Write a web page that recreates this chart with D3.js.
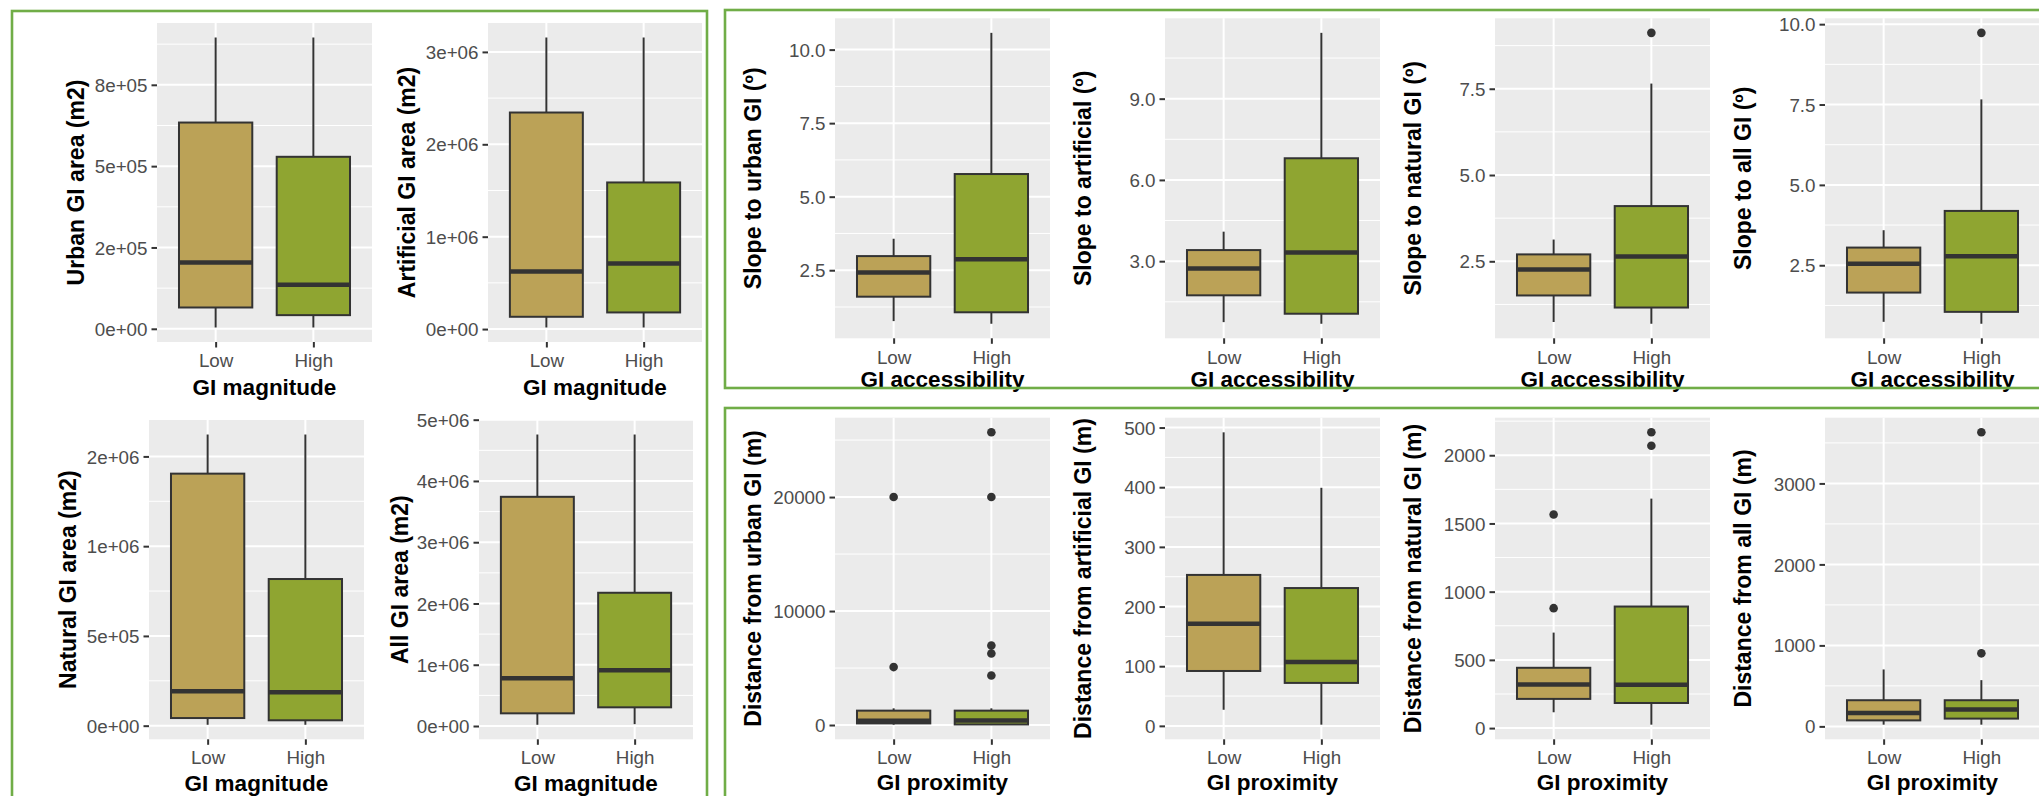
<!DOCTYPE html>
<html>
<head>
<meta charset="utf-8">
<script src="https://cdn.jsdelivr.net/npm/d3@7"></script>
<style>
  body { margin: 0; background: #ffffff; }
  svg { display: block; font-family: "Liberation Sans", Arial, Helvetica, sans-serif; }
</style>
</head>
<body>
<svg id="chart" width="2039" height="796"></svg>
<script>
// ---- categories ----
const groups = ["Low", "High"];

// ---- box statistics: [lower whisker, Q1, median, Q3, upper whisker] ----
const urbanAreaLow  = [4000, 65500, 203800, 634000, 895400];
const urbanAreaHigh = [4000, 42000, 135200, 528700, 895400];
const artificialAreaLow  = [17000, 133000, 623000, 2344000, 3156000];
const artificialAreaHigh = [17000, 180000, 710000, 1587000, 3156000];
const naturalAreaLow  = [5000, 42500, 192000, 1404000, 1622000];
const naturalAreaHigh = [5000, 30000, 186000, 817000, 1622000];
const allAreaLow  = [20000, 207000, 778000, 3741000, 4758000];
const allAreaHigh = [30000, 305000, 909000, 2175000, 4758000];

const slopeUrbanLow  = [0.77, 1.60, 2.42, 2.98, 3.57];
const slopeUrbanHigh = [0.68, 1.07, 2.87, 5.77, 10.57];
const slopeArtificialLow  = [0.75, 1.74, 2.73, 3.41, 4.09];
const slopeArtificialHigh = [0.69, 1.06, 3.32, 6.80, 11.43];
const slopeNaturalLow  = [0.74, 1.51, 2.26, 2.70, 3.13];
const slopeNaturalHigh = [0.69, 1.16, 2.64, 4.10, 7.65];
const slopeAllLow  = [0.74, 1.65, 2.55, 3.05, 3.59];
const slopeAllHigh = [0.68, 1.05, 2.78, 4.19, 7.66];

const distUrbanLow  = [30, 141, 380, 1262, 1465];
const distUrbanHigh = [30, 50, 406, 1262, 1465];
const distArtificialLow  = [27, 92, 171, 253, 492];
const distArtificialHigh = [2, 72, 107, 231, 399];
const distNaturalLow  = [116, 214, 320, 442, 700];
const distNaturalHigh = [25, 184, 317, 891, 1682];
const distAllLow  = [21, 74, 165, 323, 703];
const distAllHigh = [21, 96, 207, 323, 571];

// ---- outliers ----
const slopeNaturalHighOut = [9.12];
const slopeAllHighOut = [9.73];
const distUrbanLowOut  = [5084, 20000];
const distUrbanHighOut = [4350, 6270, 6970, 20000, 25680];
const distNaturalLowOut  = [879, 1566];
const distNaturalHighOut = [2069, 2168];
const distAllHighOut = [902, 3631];

// ---- y tick values and labels ----
const urbanAreaTicks = [0, 250000, 500000, 750000];
const urbanAreaTickLabels = ["0e+00", "2e+05", "5e+05", "8e+05"];
const artificialAreaTicks = [0, 1e6, 2e6, 3e6];
const artificialAreaTickLabels = ["0e+00", "1e+06", "2e+06", "3e+06"];
const naturalAreaTicks = [0, 5e5, 1e6, 1.5e6];
const naturalAreaTickLabels = ["0e+00", "5e+05", "1e+06", "2e+06"];
const allAreaTicks = [0, 1e6, 2e6, 3e6, 4e6, 5e6];
const allAreaTickLabels = ["0e+00", "1e+06", "2e+06", "3e+06", "4e+06", "5e+06"];
const slopeUrbanTicks = [2.5, 5, 7.5, 10];
const slopeUrbanTickLabels = ["2.5", "5.0", "7.5", "10.0"];
const slopeArtificialTicks = [3, 6, 9];
const slopeArtificialTickLabels = ["3.0", "6.0", "9.0"];
const slopeNaturalTicks = [2.5, 5, 7.5];
const slopeNaturalTickLabels = ["2.5", "5.0", "7.5"];
const slopeAllTicks = [2.5, 5, 7.5, 10];
const slopeAllTickLabels = ["2.5", "5.0", "7.5", "10.0"];
const distUrbanTicks = [0, 10000, 20000];
const distUrbanTickLabels = ["0", "10000", "20000"];
const distArtificialTicks = [0, 100, 200, 300, 400, 500];
const distArtificialTickLabels = ["0", "100", "200", "300", "400", "500"];
const distNaturalTicks = [0, 500, 1000, 1500, 2000];
const distNaturalTickLabels = ["0", "500", "1000", "1500", "2000"];
const distAllTicks = [0, 1000, 2000, 3000];
const distAllTickLabels = ["0", "1000", "2000", "3000"];

// ---- axis titles ----
const yTitles = [
  "Urban GI area (m2)", "Artificial GI area (m2)", "Natural GI area (m2)", "All GI area (m2)",
  "Slope to urban GI (º)", "Slope to artificial (º)", "Slope to natural GI (º)", "Slope to all GI (º)",
  "Distance from urban GI (m)", "Distance from artificial GI (m)", "Distance from natural GI (m)", "Distance from all GI (m)"
];
const xTitleMagnitude = "GI magnitude";
const xTitleAccessibility = "GI accessibility";
const xTitleProximity = "GI proximity";

// ---- styling ----
const fillColor = { Low: "#BBA257", High: "#8FA531" };
const outlineColor = "#333333";
const panelBg = "#EBEBEB";
const frameColor = "#70AD47";

const svg = d3.select("#chart");

// group frames
const frames = svg.append("g").attr("fill", "none").attr("stroke", frameColor).attr("stroke-width", 2.6);
frames.append("rect").attr("x", 12).attr("y", 11).attr("width", 695).attr("height", 900);
frames.append("rect").attr("x", 725).attr("y", 10).attr("width", 1400).attr("height", 378);
frames.append("rect").attr("x", 725).attr("y", 408).attr("width", 1400).attr("height", 500);

// panel geometry
const topLeftBox = { top: 23, bottom: 342, labelDy: 25, titleDy: 53 };
const botLeftBox = { top: 420, bottom: 739.3, labelDy: 25, titleDy: 52 };
const topRightBox = { top: 18.3, bottom: 338.3, labelDy: 26, titleDy: 49 };
const botRightBox = { top: 417.7, bottom: 739.3, labelDy: 25, titleDy: 51 };

const panels = [
  { box: topLeftBox, left: 157, right: 372, titleX: 76, low: urbanAreaLow, high: urbanAreaHigh, ticks: urbanAreaTicks, tickLabels: urbanAreaTickLabels, yTitle: yTitles[0], xTitle: xTitleMagnitude },
  { box: topLeftBox, left: 488, right: 702, titleX: 407, low: artificialAreaLow, high: artificialAreaHigh, ticks: artificialAreaTicks, tickLabels: artificialAreaTickLabels, yTitle: yTitles[1], xTitle: xTitleMagnitude },
  { box: botLeftBox, left: 149, right: 364, titleX: 68, low: naturalAreaLow, high: naturalAreaHigh, ticks: naturalAreaTicks, tickLabels: naturalAreaTickLabels, yTitle: yTitles[2], xTitle: xTitleMagnitude },
  { box: botLeftBox, left: 479, right: 693, titleX: 400, low: allAreaLow, high: allAreaHigh, ticks: allAreaTicks, tickLabels: allAreaTickLabels, yTitle: yTitles[3], xTitle: xTitleMagnitude },

  { box: topRightBox, left: 835, right: 1050, titleX: 753, low: slopeUrbanLow, high: slopeUrbanHigh, ticks: slopeUrbanTicks, tickLabels: slopeUrbanTickLabels, yTitle: yTitles[4], xTitle: xTitleAccessibility },
  { box: topRightBox, left: 1165, right: 1380, titleX: 1083, low: slopeArtificialLow, high: slopeArtificialHigh, ticks: slopeArtificialTicks, tickLabels: slopeArtificialTickLabels, yTitle: yTitles[5], xTitle: xTitleAccessibility },
  { box: topRightBox, left: 1495, right: 1710, titleX: 1413, low: slopeNaturalLow, high: slopeNaturalHigh, highOut: slopeNaturalHighOut, ticks: slopeNaturalTicks, tickLabels: slopeNaturalTickLabels, yTitle: yTitles[6], xTitle: xTitleAccessibility },
  { box: topRightBox, left: 1825, right: 2040, titleX: 1743, low: slopeAllLow, high: slopeAllHigh, highOut: slopeAllHighOut, ticks: slopeAllTicks, tickLabels: slopeAllTickLabels, yTitle: yTitles[7], xTitle: xTitleAccessibility },

  { box: botRightBox, left: 835, right: 1050, titleX: 753, low: distUrbanLow, high: distUrbanHigh, lowOut: distUrbanLowOut, highOut: distUrbanHighOut, ticks: distUrbanTicks, tickLabels: distUrbanTickLabels, yTitle: yTitles[8], xTitle: xTitleProximity },
  { box: botRightBox, left: 1165, right: 1380, titleX: 1083, low: distArtificialLow, high: distArtificialHigh, ticks: distArtificialTicks, tickLabels: distArtificialTickLabels, yTitle: yTitles[9], xTitle: xTitleProximity },
  { box: botRightBox, left: 1495, right: 1710, titleX: 1413, low: distNaturalLow, high: distNaturalHigh, lowOut: distNaturalLowOut, highOut: distNaturalHighOut, ticks: distNaturalTicks, tickLabels: distNaturalTickLabels, yTitle: yTitles[10], xTitle: xTitleProximity },
  { box: botRightBox, left: 1825, right: 2040, titleX: 1743, low: distAllLow, high: distAllHigh, highOut: distAllHighOut, ticks: distAllTicks, tickLabels: distAllTickLabels, yTitle: yTitles[11], xTitle: xTitleProximity }
];

function drawPanel(p) {
  const top = p.box.top, bottom = p.box.bottom;
  const series = [
    { key: "Low", stats: p.low, out: p.lowOut || [] },
    { key: "High", stats: p.high, out: p.highOut || [] }
  ];
  const allValues = series.flatMap(s => s.stats.concat(s.out));
  const [mn, mx] = d3.extent(allValues);
  const pad = (mx - mn) * 0.05;

  const y = d3.scaleLinear().domain([mn - pad, mx + pad]).range([bottom, top]);
  const x = d3.scalePoint().domain(groups).range([p.left, p.right]).padding(0.6);
  const bw = x.step() * 0.75;

  const g = svg.append("g");

  // panel background
  g.append("rect")
    .attr("x", p.left).attr("y", top)
    .attr("width", p.right - p.left).attr("height", bottom - top)
    .attr("fill", panelBg);

  // minor grid lines halfway between the major breaks
  const step = p.ticks[1] - p.ticks[0];
  const minors = [p.ticks[0] - step / 2].concat(p.ticks.map(t => t + step / 2))
    .filter(v => v > y.domain()[0] && v < y.domain()[1]);
  g.selectAll(".minor").data(minors).join("line")
    .attr("x1", p.left).attr("x2", p.right)
    .attr("y1", d => y(d)).attr("y2", d => y(d))
    .attr("stroke", "#ffffff").attr("stroke-width", 1);

  // major grid lines
  g.selectAll(".majorY").data(p.ticks).join("line")
    .attr("x1", p.left).attr("x2", p.right)
    .attr("y1", d => y(d)).attr("y2", d => y(d))
    .attr("stroke", "#ffffff").attr("stroke-width", 2);
  g.selectAll(".majorX").data(groups).join("line")
    .attr("x1", d => x(d)).attr("x2", d => x(d))
    .attr("y1", top).attr("y2", bottom)
    .attr("stroke", "#ffffff").attr("stroke-width", 2);

  // boxplots
  const bg = g.selectAll(".box").data(series).join("g");
  bg.append("line")
    .attr("x1", d => x(d.key)).attr("x2", d => x(d.key))
    .attr("y1", d => y(d.stats[3])).attr("y2", d => y(d.stats[4]))
    .attr("stroke", outlineColor).attr("stroke-width", 2);
  bg.append("line")
    .attr("x1", d => x(d.key)).attr("x2", d => x(d.key))
    .attr("y1", d => y(d.stats[1])).attr("y2", d => y(d.stats[0]))
    .attr("stroke", outlineColor).attr("stroke-width", 2);
  bg.append("rect")
    .attr("x", d => x(d.key) - bw / 2).attr("width", bw)
    .attr("y", d => y(d.stats[3]))
    .attr("height", d => y(d.stats[1]) - y(d.stats[3]))
    .attr("fill", d => fillColor[d.key])
    .attr("stroke", outlineColor).attr("stroke-width", 2);
  bg.append("line")
    .attr("x1", d => x(d.key) - bw / 2).attr("x2", d => x(d.key) + bw / 2)
    .attr("y1", d => y(d.stats[2])).attr("y2", d => y(d.stats[2]))
    .attr("stroke", outlineColor).attr("stroke-width", 4.5);
  bg.selectAll("circle").data(d => d.out.map(v => ({ key: d.key, v }))).join("circle")
    .attr("cx", d => x(d.key)).attr("cy", d => y(d.v)).attr("r", 4.3)
    .attr("fill", outlineColor);

  // axes
  const yAxis = g.append("g").attr("transform", `translate(${p.left},0)`)
    .call(d3.axisLeft(y).tickValues(p.ticks).tickFormat((d, i) => p.tickLabels[i]).tickSize(5.5).tickPadding(4));
  const xAxis = g.append("g").attr("transform", `translate(0,${bottom})`)
    .call(d3.axisBottom(x).tickSize(5.5).tickPadding(6));
  [yAxis, xAxis].forEach(a => {
    a.select(".domain").remove();
    a.selectAll(".tick line").attr("stroke", outlineColor).attr("stroke-width", 2);
    a.selectAll(".tick text")
      .attr("fill", "#4D4D4D")
      .style("font-size", "18.8px")
      .style("font-family", "\"Liberation Sans\", Arial, sans-serif");
  });
  yAxis.selectAll(".tick text").attr("dy", "0.35em");
  xAxis.selectAll(".tick text").attr("dy", null).attr("y", p.box.labelDy);

  // axis titles
  g.append("text")
    .attr("x", (p.left + p.right) / 2).attr("y", bottom + p.box.titleDy)
    .attr("text-anchor", "middle")
    .style("font-size", "22.5px").style("font-weight", "bold").attr("fill", "#000")
    .text(p.xTitle);
  g.append("text")
    .attr("transform", `translate(${p.titleX},${(top + bottom) / 2}) rotate(-90)`)
    .attr("dy", "0.36em")
    .attr("text-anchor", "middle")
    .style("font-size", "23px").style("font-weight", "bold").attr("fill", "#000")
    .text(p.yTitle);
}

panels.forEach(drawPanel);
frames.raise();
</script>
</body>
</html>
